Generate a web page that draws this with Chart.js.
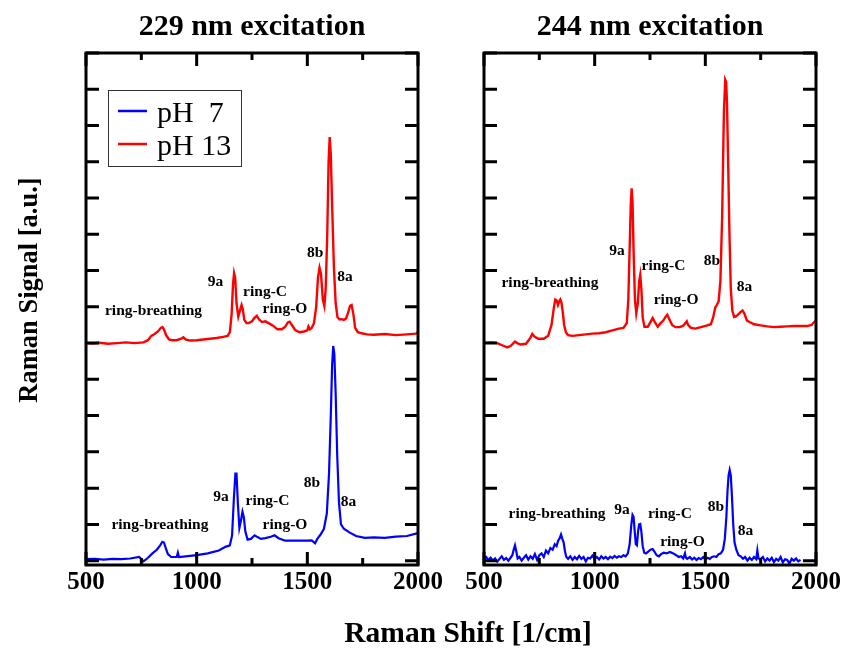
<!DOCTYPE html>
<html>
<head>
<meta charset="utf-8">
<script src="https://cdn.jsdelivr.net/npm/chart.js@4"></script>
<style>
  body { margin: 0; background: #fff; }
  #wrap { position: relative; width: 841px; height: 651px; }
  canvas { position: absolute; left: 0; top: 0; }
</style>
</head>
<body>
<div id="wrap">
  <canvas id="left" width="841" height="651"></canvas>
  <canvas id="right" width="841" height="651"></canvas>
</div>
<script>
const SERIF = '"Liberation Serif", "Times New Roman", serif';

// x axis
const xMin = 500, xMax = 2000;
const xTickLabels = [500, 1000, 1500, 2000];
const xMinorTicks = [750, 1250, 1750];

// 229 nm, pH 7
const shift229_pH7 = [500, 540, 580, 620, 660, 700, 740, 760, 780, 800, 820, 835, 845, 852, 860, 870, 885, 900, 910, 915, 920, 950, 1000, 1050, 1100, 1130, 1150, 1160, 1168, 1175, 1180, 1186, 1193, 1200, 1207, 1213, 1220, 1230, 1245, 1262, 1275, 1290, 1310, 1335, 1352, 1370, 1400, 1450, 1500, 1520, 1535, 1545, 1560, 1575, 1588, 1598, 1606, 1612, 1617, 1622, 1628, 1635, 1643, 1652, 1665, 1690, 1720, 1760, 1800, 1850, 1900, 1950, 2000];
const signal229_pH7 = [0.04, 0.05, 0.03, 0.05, 0.04, 0.06, 0.1, -0.02, 0.08, 0.2, 0.3, 0.42, 0.52, 0.5, 0.35, 0.18, 0.1, 0.1, 0.1, 0.22, 0.1, 0.12, 0.15, 0.2, 0.28, 0.38, 0.42, 0.7, 1.7, 2.4, 2.4, 1.6, 0.9, 1.1, 1.35, 1.2, 0.8, 0.58, 0.6, 0.7, 0.65, 0.6, 0.62, 0.66, 0.7, 0.62, 0.55, 0.55, 0.55, 0.56, 0.48, 0.6, 0.72, 0.88, 1.3, 2.4, 4.0, 5.4, 5.92, 5.7, 4.6, 2.9, 1.6, 1.0, 0.88, 0.78, 0.68, 0.63, 0.64, 0.63, 0.66, 0.68, 0.76];

// 229 nm, pH 13
const shift229_pH13 = [500, 530, 560, 600, 640, 680, 720, 760, 780, 795, 810, 825, 838, 845, 852, 862, 875, 890, 910, 930, 940, 950, 970, 1000, 1030, 1060, 1090, 1120, 1140, 1150, 1158, 1164, 1169, 1174, 1180, 1188, 1196, 1203, 1208, 1215, 1225, 1235, 1250, 1262, 1272, 1282, 1295, 1310, 1325, 1345, 1365, 1385, 1400, 1412, 1420, 1430, 1445, 1465, 1485, 1500, 1505, 1512, 1520, 1530, 1540, 1548, 1555, 1562, 1570, 1577, 1583, 1590, 1596, 1601, 1606, 1612, 1620, 1628, 1636, 1645, 1655, 1665, 1675, 1685, 1693, 1700, 1708, 1716, 1728, 1745, 1770, 1800, 1850, 1900, 1950, 1990, 2000];
const signal229_pH13 = [6.0, 5.99, 6.01, 5.98, 6.0, 6.02, 6.0, 6.02, 6.08, 6.2, 6.25, 6.32, 6.42, 6.44, 6.38, 6.22, 6.1, 6.08, 6.08, 6.12, 6.16, 6.1, 6.07, 6.08, 6.1, 6.12, 6.14, 6.17, 6.2, 6.3, 6.8, 7.6, 7.93, 7.8, 7.1, 6.73, 6.9, 7.05, 6.95, 6.65, 6.55, 6.55, 6.6, 6.7, 6.75, 6.65, 6.58, 6.6, 6.55, 6.48, 6.38, 6.38, 6.45, 6.57, 6.59, 6.5, 6.36, 6.3, 6.32, 6.35, 6.46, 6.38, 6.42, 6.55, 7.0, 7.8, 8.08, 7.9, 7.2, 7.02, 7.5, 9.0, 11.0, 11.68, 11.2, 9.8, 8.1, 7.1, 6.72, 6.65, 6.66, 6.64, 6.68, 6.85, 7.03, 7.05, 6.8, 6.42, 6.3, 6.27, 6.24, 6.23, 6.25, 6.22, 6.24, 6.26, 6.3];

// 244 nm, pH 7
const shift244_pH7 = [500, 510, 520, 530, 540, 550, 560, 570, 580, 590, 600, 610, 620, 628, 634, 640, 646, 652, 660, 670, 680, 690, 700, 710, 720, 730, 740, 750, 760, 770, 780, 790, 800, 810, 820, 828, 835, 842, 848, 854, 860, 866, 872, 880, 890, 900, 910, 920, 930, 940, 950, 960, 970, 980, 990, 1000, 1010, 1020, 1030, 1040, 1050, 1060, 1070, 1080, 1090, 1100, 1110, 1120, 1130, 1140, 1150, 1158, 1165, 1171, 1176, 1181, 1186, 1191, 1196, 1201, 1206, 1211, 1217, 1224, 1232, 1242, 1252, 1262, 1270, 1280, 1290, 1300, 1312, 1325, 1340, 1355, 1368, 1380, 1390, 1400, 1408, 1412, 1418, 1430, 1440, 1450, 1460, 1470, 1480, 1490, 1500, 1510, 1520, 1530, 1540, 1550, 1560, 1570, 1580, 1588, 1595, 1600, 1605, 1610, 1615, 1620, 1626, 1632, 1640, 1650, 1660, 1670, 1680, 1690, 1700, 1710, 1720, 1730, 1735, 1740, 1750, 1760, 1770, 1780, 1790, 1800, 1810, 1820, 1830, 1840, 1850, 1860, 1870, 1880, 1890, 1900, 1910, 1920, 1930];
const signal244_pH7 = [0.05, 0.1, 0.02, 0.08, 0.0, 0.06, -0.03, 0.05, 0.12, 0.02, 0.07, 0.0, 0.08, 0.15, 0.3, 0.42, 0.25, 0.06, 0.1, 0.0, 0.08, 0.15, 0.03, 0.12, 0.05, 0.18, 0.02, 0.15, 0.2, 0.1, 0.28, 0.2, 0.35, 0.3, 0.45, 0.4, 0.55, 0.62, 0.72, 0.6, 0.5, 0.25, 0.1, 0.05, 0.12, 0.02, 0.1, 0.04, 0.13, 0.05, 0.1, -0.02, 0.08, 0.06, 0.14, 0.05, 0.1, 0.03, 0.12, 0.06, 0.1, 0.04, 0.11, 0.07, 0.13, 0.08, 0.12, 0.1, 0.15, 0.12, 0.2, 0.45, 0.95, 1.26, 1.2, 0.8, 0.45, 0.42, 0.8, 1.0, 1.01, 0.8, 0.4, 0.22, 0.2, 0.25, 0.3, 0.32, 0.25, 0.15, 0.12, 0.18, 0.22, 0.2, 0.24, 0.2, 0.15, 0.1, 0.12, 0.06, 0.2, 0.08, 0.05, 0.1, 0.03, 0.08, 0.02, 0.07, 0.04, 0.1, 0.03, 0.08, 0.05, 0.1, 0.12, 0.1, 0.18, 0.2, 0.3, 0.6, 1.2, 1.9, 2.35, 2.5, 2.35, 1.8, 1.0, 0.5, 0.3, 0.15, 0.12, 0.05, 0.1, 0.0, 0.08, 0.02, 0.1, 0.04, 0.28, 0.06, 0.05, 0.1, -0.02, 0.06, 0.0, 0.08, -0.04, 0.05, 0.0, 0.1, -0.05, 0.04, 0.02, -0.08, 0.05, 0.0, 0.06, -0.02, 0.02];

// 244 nm, pH 13
const shift244_pH13 = [500, 530, 560, 590, 605, 620, 640, 650, 665, 690, 710, 718, 728, 745, 770, 790, 805, 815, 822, 828, 834, 840, 845, 850, 856, 862, 870, 880, 900, 930, 960, 990, 1020, 1050, 1080, 1110, 1130, 1145, 1152, 1158, 1163, 1167, 1171, 1176, 1182, 1188, 1195, 1201, 1206, 1211, 1217, 1225, 1240, 1252, 1262, 1272, 1285, 1298, 1310, 1320, 1328, 1338, 1350, 1365, 1385, 1400, 1410, 1416, 1422, 1435, 1455, 1480, 1505, 1525, 1535, 1545, 1552, 1560, 1568, 1576, 1584, 1590, 1594, 1598, 1603, 1609, 1615, 1622, 1630, 1640, 1650, 1660, 1668, 1676, 1688, 1700, 1720, 1750, 1780, 1810, 1840, 1870, 1900, 1930, 1960, 1980, 1992, 2000];
const signal244_pH13 = [6.0, 6.02, 6.0, 5.92, 5.88, 5.92, 6.04, 6.0, 5.96, 5.98, 6.15, 6.25, 6.18, 6.12, 6.12, 6.2, 6.5, 6.95, 7.2, 7.18, 7.05, 7.15, 7.2, 7.12, 6.85, 6.5, 6.3, 6.22, 6.2, 6.22, 6.24, 6.26, 6.27, 6.3, 6.35, 6.4, 6.42, 6.55, 7.2, 8.6, 9.8, 10.27, 9.9, 8.5, 7.2, 6.82, 7.1, 7.7, 7.88, 7.5, 6.7, 6.45, 6.45, 6.58, 6.69, 6.58, 6.45, 6.55, 6.62, 6.72, 6.78, 6.65, 6.5, 6.44, 6.44, 6.48, 6.55, 6.6, 6.5, 6.42, 6.4, 6.44, 6.48, 6.52, 6.7, 6.98, 7.05, 7.15, 7.7, 9.5, 12.4, 13.26, 13.2, 12.6, 11.0, 9.0, 7.5, 6.9, 6.72, 6.74, 6.8, 6.86, 6.9, 6.82, 6.62, 6.58, 6.52, 6.49, 6.46, 6.44, 6.45, 6.46, 6.47, 6.47, 6.47, 6.5, 6.58, 6.62];

// peak labels: [text, shift, signal]
const peakLabels229 = [
  ['ring-breathing', 805, 6.89], ['9a', 1085, 7.69], ['ring-C', 1309, 7.41], ['ring-O', 1399, 6.94], ['8b', 1535, 8.49], ['8a', 1670, 7.83],
  ['ring-breathing', 834, 0.98], ['9a', 1110, 1.76], ['ring-C', 1320, 1.65], ['ring-O', 1399, 0.98], ['8b', 1521, 2.14], ['8a', 1686, 1.62]
];
const peakLabels244 = [
  ['ring-breathing', 798, 7.66], ['9a', 1101, 8.54], ['ring-C', 1311, 8.13], ['ring-O', 1368, 7.19], ['8b', 1530, 8.27], ['8a', 1677, 7.55],
  ['ring-breathing', 830, 1.28], ['9a', 1124, 1.39], ['ring-C', 1340, 1.28], ['ring-O', 1397, 0.52], ['8b', 1548, 1.48], ['8a', 1682, 0.82]
];

const seriesNames = ['pH  7', 'pH 13'];
const seriesColors = ['#0000ff', '#ff0000'];

function toPoints(xs, ys) {
  return xs.map((x, i) => ({ x: x, y: ys[i] }));
}

const framePlugin = {
  id: 'frame',
  afterDatasetsDraw(chart, args, opts) {
    const ctx = chart.ctx;
    const a = chart.chartArea;
    const xs = chart.scales.x, ys = chart.scales.y;
    ctx.save();
    ctx.strokeStyle = '#000';
    ctx.lineWidth = 3;
    ctx.lineCap = 'butt';
    ctx.beginPath();
    // x ticks, inside, top and bottom
    xTickLabels.concat(xMinorTicks).forEach(v => {
      const px = xs.getPixelForValue(v);
      const len = xMinorTicks.includes(v) ? 7 : 13;
      ctx.moveTo(px, a.bottom); ctx.lineTo(px, a.bottom - len);
      ctx.moveTo(px, a.top); ctx.lineTo(px, a.top + len);
    });
    // y ticks every unit, inside, left and right
    for (let v = 0; v <= 14; v++) {
      const py = ys.getPixelForValue(v);
      ctx.moveTo(a.left, py); ctx.lineTo(a.left + 13, py);
      ctx.moveTo(a.right, py); ctx.lineTo(a.right - 13, py);
    }
    ctx.stroke();
    ctx.strokeRect(a.left, a.top, a.right - a.left, a.bottom - a.top);

    // panel title
    ctx.fillStyle = '#000';
    ctx.textAlign = 'center';
    ctx.textBaseline = 'middle';
    ctx.font = 'bold 30px ' + SERIF;
    ctx.fillText(opts.title, (a.left + a.right) / 2, 27);

    // peak labels
    ctx.font = 'bold 15.5px ' + SERIF;
    opts.labels.forEach(l => {
      ctx.fillText(l[0], xs.getPixelForValue(l[1]), ys.getPixelForValue(l[2]));
    });

    if (opts.legend) {
      ctx.lineWidth = 1;
      ctx.strokeStyle = '#333';
      ctx.strokeRect(108.5, 90.5, 133, 76);
      ctx.textAlign = 'left';
      ctx.textBaseline = 'alphabetic';
      ctx.font = '30px ' + SERIF;
      chart.data.datasets.forEach((ds, i) => {
        const ly = 111 + i * 33;
        ctx.strokeStyle = ds.borderColor;
        ctx.lineWidth = 2.5;
        ctx.beginPath();
        ctx.moveTo(118, ly); ctx.lineTo(147, ly);
        ctx.stroke();
        ctx.fillStyle = '#000';
        ctx.fillText(ds.label, 157, ly + 11);
      });
    }

    if (opts.axisTitles) {
      ctx.fillStyle = '#000';
      ctx.textAlign = 'center';
      ctx.textBaseline = 'middle';
      ctx.font = 'bold 29.5px ' + SERIF;
      ctx.fillText('Raman Shift [1/cm]', 468, 634);
      ctx.save();
      ctx.translate(30, 290);
      ctx.rotate(-Math.PI / 2);
      ctx.font = 'bold 26.5px ' + SERIF;
      ctx.fillText('Raman Signal [a.u.]', 0, 0);
      ctx.restore();
    }
    ctx.restore();
  }
};

function makePanel(id, pH7x, pH7y, pH13x, pH13y, pad, opts) {
  return new Chart(document.getElementById(id), {
    type: 'line',
    data: {
      datasets: [
        { label: seriesNames[0], data: toPoints(pH7x, pH7y), borderColor: seriesColors[0], borderWidth: 2.2, pointRadius: 0, tension: 0 },
        { label: seriesNames[1], data: toPoints(pH13x, pH13y), borderColor: seriesColors[1], borderWidth: 2.4, pointRadius: 0, tension: 0 }
      ]
    },
    options: {
      responsive: false,
      animation: false,
      events: [],
      layout: { padding: pad },
      plugins: { legend: { display: false }, tooltip: { enabled: false }, frame: opts },
      scales: {
        x: {
          type: 'linear',
          min: xMin,
          max: xMax,
          afterBuildTicks: s => { s.ticks = xTickLabels.map(v => ({ value: v })); },
          afterFit: s => { s.height = 40; s.paddingLeft = 0; s.paddingRight = 0; },
          grid: { display: false, drawTicks: false },
          border: { display: false },
          ticks: {
            padding: 3, maxRotation: 0, autoSkip: false, color: '#000',
            font: { family: SERIF, size: 25, weight: 'bold' },
            callback: v => String(v)
          }
        },
        y: { display: false, min: -0.12, max: 14 }
      }
    },
    plugins: [framePlugin]
  });
}

makePanel('left', shift229_pH7, signal229_pH7, shift229_pH13, signal229_pH13,
  { left: 86, right: 841 - 418, top: 53, bottom: 651 - 565 - 40 },
  { title: '229 nm excitation', labels: peakLabels229, legend: true, axisTitles: true });

makePanel('right', shift244_pH7, signal244_pH7, shift244_pH13, signal244_pH13,
  { left: 484, right: 841 - 816, top: 53, bottom: 651 - 565 - 40 },
  { title: '244 nm excitation', labels: peakLabels244, legend: false, axisTitles: false });
</script>
</body>
</html>
